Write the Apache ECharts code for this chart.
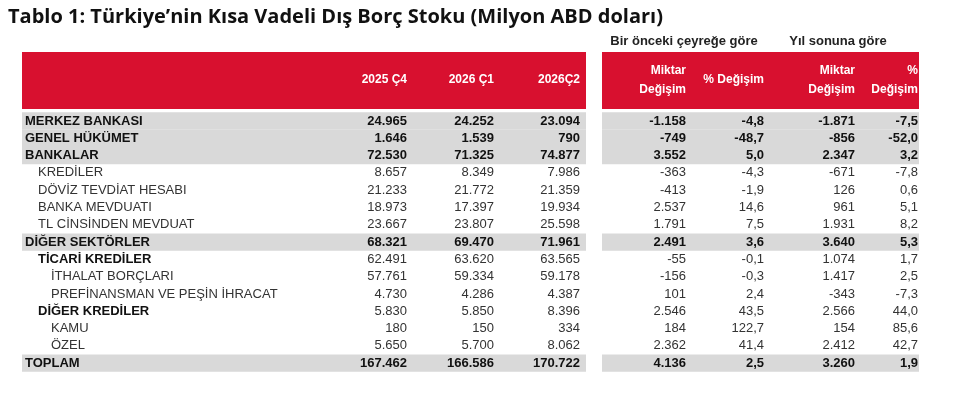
<!DOCTYPE html>
<html>
<head>
<meta charset="utf-8">
<script src="https://cdn.jsdelivr.net/npm/echarts@6/dist/echarts.min.js"></script>
<style>html,body{margin:0;padding:0;background:#fff}#main{width:962px;height:410px}</style>
</head>
<body>
<div id="main"></div>
<script>
var rowLabels = ['MERKEZ BANKASI','GENEL HÜKÜMET','BANKALAR','KREDİLER','DÖVİZ TEVDİAT HESABI','BANKA MEVDUATI','TL CİNSİNDEN MEVDUAT','DİĞER SEKTÖRLER','TİCARİ KREDİLER','İTHALAT BORÇLARI','PREFİNANSMAN VE PEŞİN İHRACAT','DİĞER KREDİLER','KAMU','ÖZEL','TOPLAM'];
var rowLevel = [0,0,0,1,1,1,1,0,1,2,2,1,2,2,0];
var rowBold = [1,1,1,0,0,0,0,1,1,0,0,1,0,0,1];
var rowShade = [1,1,1,0,0,0,0,1,0,0,0,0,0,0,1];
var q2025c4 = ['24.965','1.646','72.530','8.657','21.233','18.973','23.667','68.321','62.491','57.761','4.730','5.830','180','5.650','167.462'];
var q2026c1 = ['24.252','1.539','71.325','8.349','21.772','17.397','23.807','69.470','63.620','59.334','4.286','5.850','150','5.700','166.586'];
var q2026c2 = ['23.094','790','74.877','7.986','21.359','19.934','25.598','71.961','63.565','59.178','4.387','8.396','334','8.062','170.722'];
var qChange = ['-1.158','-749','3.552','-363','-413','2.537','1.791','2.491','-55','-156','101','2.546','184','2.362','4.136'];
var qPct = ['-4,8','-48,7','5,0','-4,3','-1,9','14,6','7,5','3,6','-0,1','-0,3','2,4','43,5','122,7','41,4','2,5'];
var yChange = ['-1.871','-856','2.347','-671','126','961','1.931','3.640','1.074','1.417','-343','2.566','154','2.412','3.260'];
var yPct = ['-7,5','-52,0','3,2','-7,8','0,6','5,1','8,2','5,3','1,7','2,5','-7,3','44,0','85,6','42,7','1,9'];

var columns = [q2025c4, q2026c1, q2026c2, qChange, qPct, yChange, yPct];
var colRight = [407, 494, 580, 686, 764, 855, 918];
var font = '"Liberation Sans", sans-serif';
var top0 = 121, rowH = 17.3;

var els = [];
els.push({type:'text', left:8, top:7, style:{text:'Tablo 1: Türkiye’nin Kısa Vadeli Dış Borç Stoku (Milyon ABD doları)', font:'bold 20px "Open Sans", sans-serif', fill:'#111'}});
els.push({type:'text', x:684, y:41, style:{text:'Bir önceki çeyreğe göre', font:'bold 13px ' + font, fill:'#222', align:'center', verticalAlign:'middle'}});
els.push({type:'text', x:838, y:41, style:{text:'Yıl sonuna göre', font:'bold 13px ' + font, fill:'#222', align:'center', verticalAlign:'middle'}});
els.push({type:'rect', shape:{x:22, y:52, width:564, height:57}, style:{fill:'#d8102f'}});
els.push({type:'rect', shape:{x:602, y:52, width:317, height:57}, style:{fill:'#d8102f'}});
var heads = ['2025 Ç4','2026 Ç1','2026Ç2','Miktar\nDeğişim','% Değişim','Miktar\nDeğişim','%\nDeğişim'];
heads.forEach(function (h, i) {
  els.push({type:'text', x:colRight[i], y:80, style:{text:h, font:'bold 12px ' + font, fill:'#fff', align:'right', verticalAlign:'middle', lineHeight:19}});
});
rowLabels.forEach(function (lab, r) {
  var cy = top0 + r * rowH;
  if (rowShade[r]) {
    els.push({type:'rect', shape:{x:22, y:cy - rowH / 2, width:564, height:rowH}, style:{fill:'#d9d9d9'}});
    els.push({type:'rect', shape:{x:602, y:cy - rowH / 2, width:317, height:rowH}, style:{fill:'#d9d9d9'}});
  }
  var fl = (rowBold[r] ? 'bold ' : '') + '13px ' + font;
  var fn = (rowShade[r] ? 'bold ' : '') + '13px ' + font;
  els.push({type:'text', x:25 + rowLevel[r] * 13, y:cy, style:{text:lab, font:fl, fill:rowBold[r] ? '#111' : '#333', verticalAlign:'middle'}});
  columns.forEach(function (col, c) {
    els.push({type:'text', x:colRight[c], y:cy, style:{text:col[r], font:fn, fill:rowShade[r] ? '#111' : '#333', align:'right', verticalAlign:'middle'}});
  });
});

var myChart = echarts.init(document.getElementById('main'));
myChart.setOption({ graphic: els });
window.onresize = myChart.resize;
</script>
</body>
</html>
